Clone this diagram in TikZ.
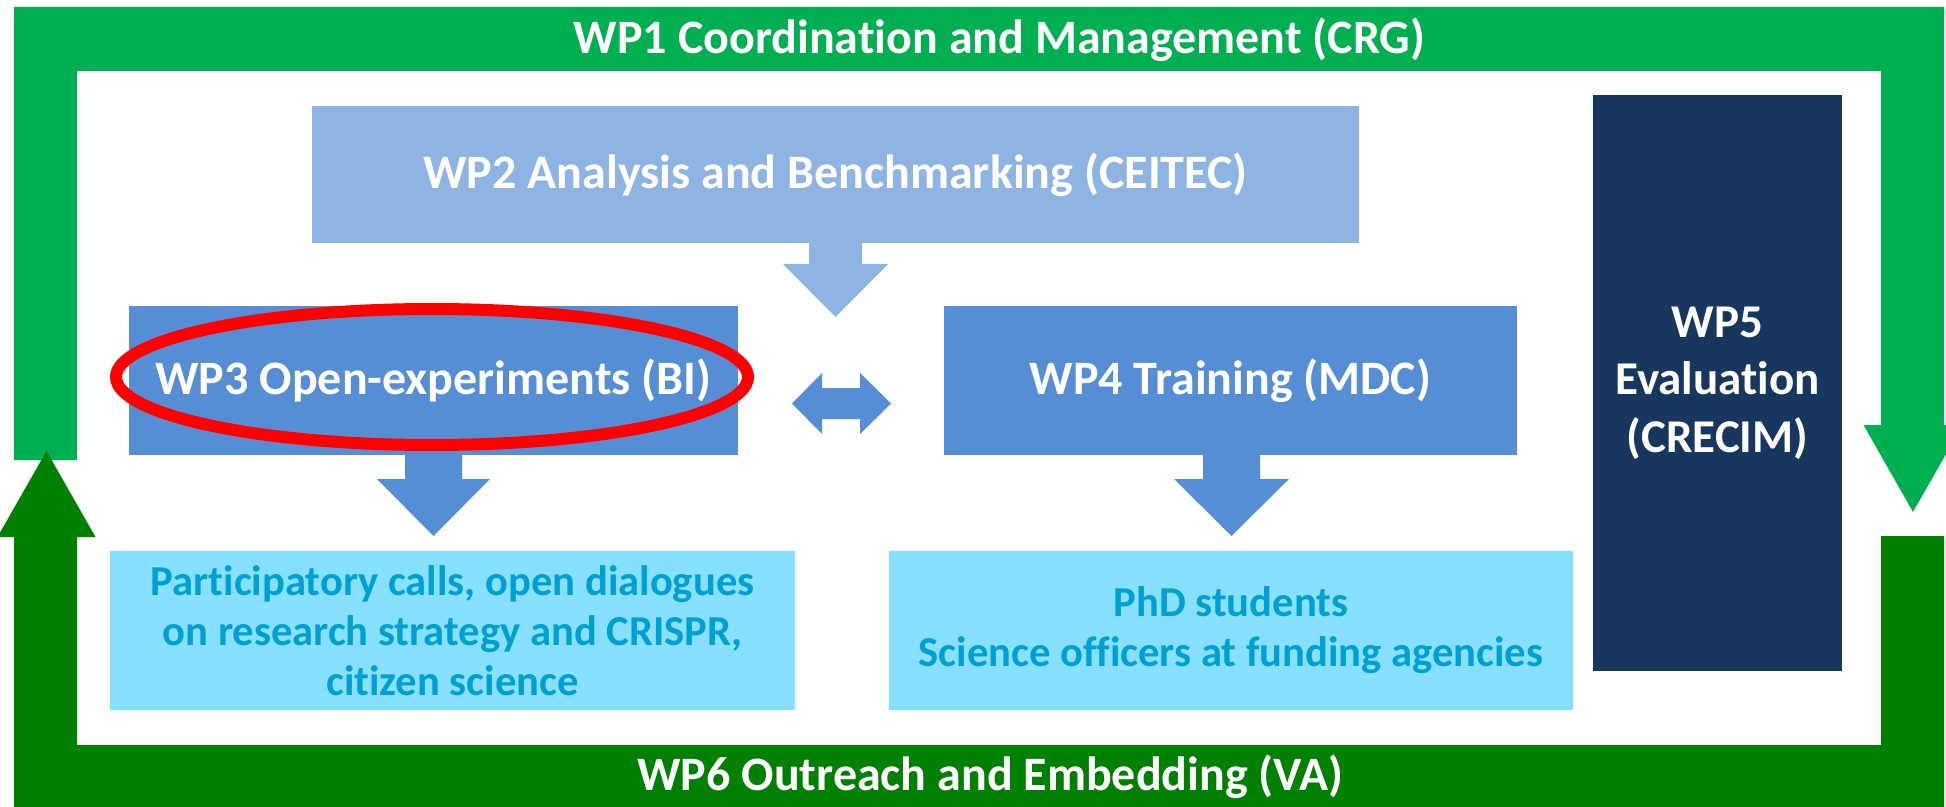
\documentclass[tikz,border=0pt]{standalone}
\usepackage{fontspec}
\setmainfont{Carlito}[Ligatures=NoCommon]
\usetikzlibrary{positioning}
\usetikzlibrary{shapes.geometric}
\usetikzlibrary{calc}

\definecolor{mgmtgreen}{HTML}{00B050}
\definecolor{outgreen}{HTML}{008000}
\definecolor{benchblue}{HTML}{8EB4E3}
\definecolor{wpblue}{HTML}{558ED5}
\definecolor{evalnavy}{HTML}{17375E}
\definecolor{resultcyan}{HTML}{87E0FF}
\definecolor{resulttext}{HTML}{00A0D2}

\begin{document}
\begin{tikzpicture}[
  x=0.5pt, y=-0.5pt,
  every node/.style={inner sep=0pt, outer sep=0pt},
  bigfont/.style={font=\fontsize{24}{28}\selectfont\bfseries},
  wpbox/.style={bigfont, text=white, align=center},
  resultbox/.style={
    fill=resultcyan, text=resulttext, align=center,
    font=\fontsize{21.3}{25}\selectfont\bfseries,
    minimum width=342.5pt, minimum height=79.5pt
  },
  ring/.style={draw=red, line width=6pt, ellipse}
]
\useasboundingbox (0,0) rectangle (1946,807);
\clip (0,0) rectangle (1946,807);

% Frame
\fill[mgmtgreen] (14,460) -- (14,7) -- (1944,7) -- (1944,425) -- (1962.5,425)
  -- (1913,512) -- (1863.5,425) -- (1881,425) -- (1881,71) -- (77,71)
  -- (77,460) -- cycle;
\fill[outgreen] (1944,536) -- (1944,807) -- (14,807) -- (14,537) -- (-2.5,537)
  -- (46.5,451) -- (95.5,537) -- (77,537) -- (77,745) -- (1881,745)
  -- (1881,536) -- cycle;

% Nodes
\node[wpbox] (wp1) at (999.5,40) {WP1 Coordination and Management (CRG)};
\node[wpbox] (wp6) at (990.5,777) {WP6 Outreach and Embedding (VA)};
\node[wpbox, fill=benchblue, minimum width=523.5pt, minimum height=68.5pt]
  (wp2) at (835.5,174.5) {WP2 Analysis and Benchmarking (CEITEC)};
\node[wpbox, fill=wpblue, minimum width=304.5pt, minimum height=74.5pt]
  (wp3) at (433.5,380.5) {WP3 Open-experiments (BI)};
\node[wpbox, fill=wpblue, minimum width=286.5pt, minimum height=74.5pt]
  (wp4) at (1230.5,380.5) {WP4 Training (MDC)};
\node[wpbox, fill=evalnavy, minimum width=124.5pt, minimum height=288pt,
  font=\fontsize{23.5}{28.75}\selectfont\bfseries]
  (wp5) at (1717.5,383) {WP5\\Evaluation\\(CRECIM)};
\node[resultbox] (calls) at (452.5,630.5)
  {Participatory calls, open dialogues\\on research strategy and CRISPR,\\citizen science};
\node[resultbox, minimum width=342pt] (people) at (1231,630.5)
  {PhD students\\Science officers at funding agencies};
\node[ring, minimum width=316pt, minimum height=68pt] (focus) at (432,377) {};
\coordinate (link) at ($(wp3.east)!0.5!(wp4.west)+(0.5,23)$);

% Arrows
\fill[benchblue] (wp2.south) ++(-26.5,0) -- ++(0,21) -- ++(-26,0) -- ++(52.5,53)
  -- ++(52.5,-53) -- ++(-26,0) -- ++(0,-21) -- cycle;
\fill[wpblue] (wp3.south) ++(-28.5,0) -- ++(0,24) -- ++(-28,0) -- ++(56.5,57)
  -- ++(56.5,-57) -- ++(-28,0) -- ++(0,-24) -- cycle;
\fill[wpblue] (wp4.south) ++(-27.5,0) -- ++(0,24) -- ++(-29,0) -- ++(57.5,57)
  -- ++(57.5,-57) -- ++(-29,0) -- ++(0,-24) -- cycle;
\fill[wpblue] (link) ++(-49.5,0) -- ++(30,-30.5) -- ++(0,15) -- ++(38,0)
  -- ++(0,-15) -- ++(31,30.5) -- ++(-31,30.5) -- ++(0,-15) -- ++(-38,0)
  -- ++(0,15) -- cycle;
\end{tikzpicture}
\end{document}
